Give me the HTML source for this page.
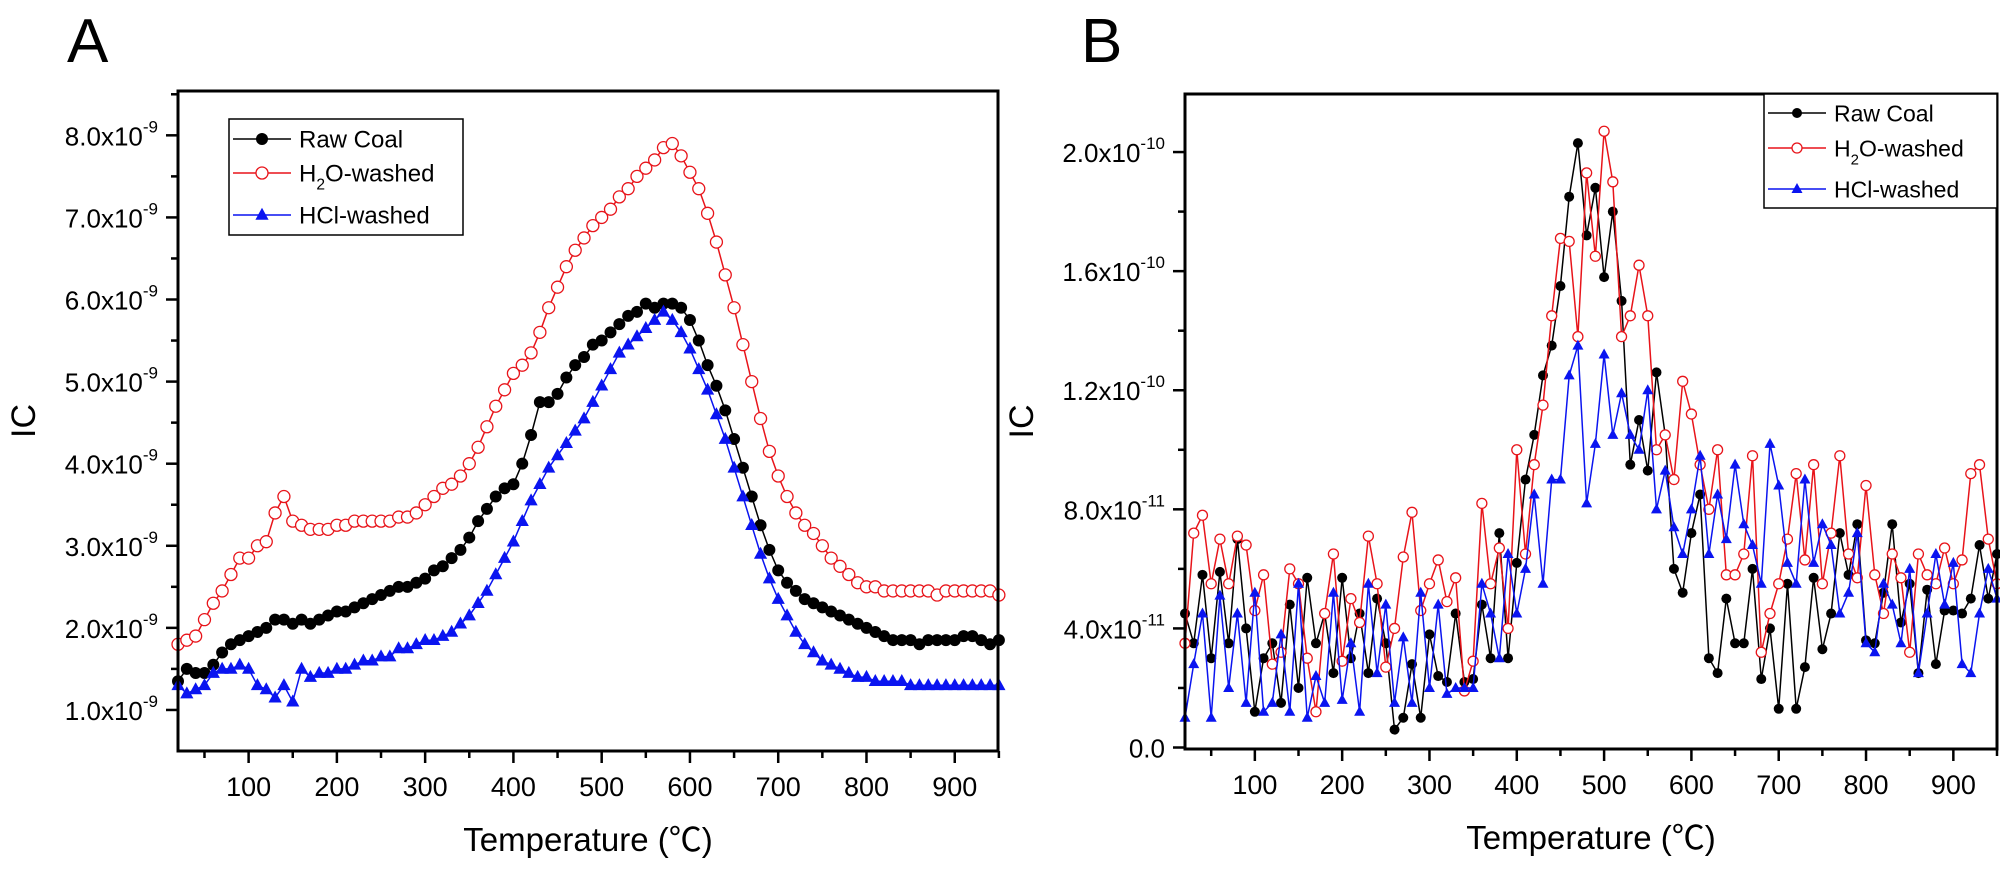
<!DOCTYPE html>
<html><head><meta charset="utf-8"><style>
html,body{margin:0;padding:0;background:#fff;}
svg{display:block;font-family:"Liberation Sans","Noto Sans CJK SC",sans-serif;}
</style></head><body>
<svg id="chart" width="2000" height="892" viewBox="0 0 2000 892" xmlns="http://www.w3.org/2000/svg"></svg>
<script>
const temps = [];
for (let t = 20; t <= 950; t += 10) temps.push(t);
const rawA = [1.35,1.5,1.45,1.45,1.55,1.7,1.8,1.85,1.9,1.95,2.0,2.1,2.1,2.05,2.1,2.05,2.1,2.15,2.2,2.2,2.25,2.3,2.35,2.4,2.45,2.5,2.5,2.55,2.6,2.7,2.75,2.85,2.95,3.1,3.3,3.45,3.6,3.7,3.75,4.0,4.35,4.75,4.75,4.85,5.05,5.2,5.3,5.45,5.5,5.6,5.7,5.8,5.85,5.95,5.9,5.95,5.95,5.9,5.75,5.5,5.2,4.95,4.65,4.3,3.95,3.6,3.25,2.95,2.7,2.55,2.45,2.35,2.3,2.25,2.2,2.15,2.1,2.05,2.0,1.95,1.9,1.85,1.85,1.85,1.8,1.85,1.85,1.85,1.85,1.9,1.9,1.85,1.8,1.85];
const h2oA = [1.8,1.85,1.9,2.1,2.3,2.45,2.65,2.85,2.85,3.0,3.05,3.4,3.6,3.3,3.25,3.2,3.2,3.2,3.25,3.25,3.3,3.3,3.3,3.3,3.3,3.35,3.35,3.4,3.5,3.6,3.7,3.75,3.85,4.0,4.2,4.45,4.7,4.9,5.1,5.2,5.35,5.6,5.9,6.15,6.4,6.6,6.75,6.9,7.0,7.1,7.25,7.35,7.5,7.6,7.7,7.85,7.9,7.75,7.55,7.35,7.05,6.7,6.3,5.9,5.45,5.0,4.55,4.15,3.85,3.6,3.4,3.25,3.15,3.0,2.85,2.75,2.65,2.55,2.5,2.5,2.45,2.45,2.45,2.45,2.45,2.45,2.4,2.45,2.45,2.45,2.45,2.45,2.45,2.4];
const hclA = [1.3,1.2,1.25,1.3,1.45,1.5,1.5,1.55,1.5,1.3,1.25,1.15,1.3,1.1,1.5,1.4,1.45,1.45,1.5,1.5,1.55,1.6,1.6,1.65,1.65,1.75,1.75,1.8,1.85,1.85,1.9,1.95,2.05,2.15,2.3,2.45,2.65,2.85,3.05,3.3,3.55,3.75,3.95,4.1,4.25,4.4,4.55,4.75,4.95,5.15,5.35,5.45,5.55,5.65,5.75,5.85,5.75,5.6,5.4,5.15,4.9,4.6,4.3,3.95,3.6,3.25,2.9,2.6,2.35,2.15,1.95,1.8,1.7,1.6,1.55,1.5,1.45,1.4,1.4,1.35,1.35,1.35,1.35,1.3,1.3,1.3,1.3,1.3,1.3,1.3,1.3,1.3,1.3,1.3];
const rawB = [4.5,3.5,5.8,3.0,5.9,3.5,7.0,4.0,1.2,3.0,3.5,1.5,4.8,2.0,5.7,3.5,4.5,2.5,5.7,3.0,4.5,2.5,5.0,3.5,0.6,1.0,2.8,1.0,3.8,2.4,2.2,4.5,2.2,2.3,4.8,3.0,7.2,3.0,6.2,9.0,10.5,12.5,13.5,15.5,18.5,20.3,17.2,18.8,15.8,18.0,15.0,9.5,11.0,9.3,12.6,10.5,6.0,5.2,7.2,8.5,3.0,2.5,5.0,3.5,3.5,6.0,2.3,4.0,1.3,5.5,1.3,2.7,5.7,3.3,4.5,7.2,5.8,7.5,3.6,3.5,5.2,7.5,4.2,5.5,2.5,5.3,2.8,4.6,4.6,4.5,5.0,6.8,5.0,6.5];
const h2oB = [3.5,7.2,7.8,5.5,7.0,5.5,7.1,6.8,4.6,5.8,2.8,3.2,6.0,5.5,3.0,1.2,4.5,6.5,2.9,5.0,4.2,7.1,5.5,2.7,4.0,6.4,7.9,4.6,5.5,6.3,4.9,5.7,1.9,2.9,8.2,5.5,6.7,4.0,10.0,6.5,9.5,11.5,14.5,17.1,17.0,13.8,19.3,16.5,20.7,19.0,13.8,14.5,16.2,14.5,10.0,10.5,9.0,12.3,11.2,9.5,8.0,10.0,5.8,5.8,6.5,9.8,3.2,4.5,5.5,7.0,9.2,6.3,9.5,5.5,7.2,9.8,6.5,5.7,8.8,5.8,4.5,6.5,5.7,3.2,6.5,5.8,5.5,6.7,5.5,6.3,9.2,9.5,7.0,5.5];
const hclB = [1.0,2.8,4.5,1.0,5.1,2.0,4.5,1.5,5.2,1.2,1.5,3.8,1.2,5.5,1.0,2.4,1.5,5.2,1.6,3.5,1.2,5.5,2.5,4.8,1.5,3.7,1.5,5.2,2.0,4.8,1.8,2.0,2.0,2.0,5.5,4.5,3.0,6.5,4.5,6.0,8.5,5.5,9.0,9.0,12.5,13.5,8.2,10.2,13.2,10.5,11.9,10.5,10.0,12.0,8.0,9.3,7.4,6.5,8.0,9.8,6.5,8.5,7.0,9.5,7.5,6.8,5.5,10.2,8.8,6.2,5.5,9.0,6.2,7.5,6.8,4.5,5.2,7.2,3.5,3.2,5.5,4.8,3.5,6.0,2.5,4.5,6.5,4.8,6.2,2.8,2.5,4.5,6.0,5.0];
const xTicks = [100,200,300,400,500,600,700,800,900];
const yTicksA = [1,2,3,4,5,6,7,8];
const yTicksB = [0,4,8,12,16,20];
const yLabelsB = ["0.0","4.0x10","8.0x10","1.2x10","1.6x10","2.0x10"];
const yExpB = ["","-11","-11","-10","-10","-10"];

const NS = "http://www.w3.org/2000/svg";
const svg = document.getElementById("chart");
function mk(tag, attrs, parent) {
  const e = document.createElementNS(NS, tag);
  for (const k in attrs) e.setAttribute(k, attrs[k]);
  (parent || svg).appendChild(e);
  return e;
}

function panel(cfg) {
  const g = mk("g", {});
  
  
  const xs = v => cfg.L + (v - cfg.x0) / (cfg.x1 - cfg.x0) * (cfg.R - cfg.L);
  const ys = v => cfg.B - (v - cfg.y0) / (cfg.y1 - cfg.y0) * (cfg.B - cfg.T);
  cfg.series.forEach(s => {
    const sg = mk("g", {}, g);
    
    
    let d = "";
    s.vals.forEach((v, i) => { d += (i ? "L" : "M") + xs(temps[i]).toFixed(1) + "," + ys(v).toFixed(1); });
    mk("path", {d: d, fill: "none", stroke: s.color, "stroke-width": 1.5}, sg);
    s.vals.forEach((v, i) => {
      const x = xs(temps[i]), y = ys(v), r = cfg.r;
      let m;
      if (s.shape === "circle") m = mk("circle", {cx: x, cy: y, r: r, fill: "#000"}, sg);
      else if (s.shape === "open") m = mk("circle", {cx: x, cy: y, r: r, fill: "#fff", stroke: "#e8141a", "stroke-width": 1.3}, sg);
      else m = mk("polygon", {points: `${x},${y - r * 1.2} ${x - r * 1.1},${y + r * 0.8} ${x + r * 1.1},${y + r * 0.8}`, fill: "#0a14f0"}, sg);
      
      
    });
  });
  const fr = mk("rect", {x: cfg.L, y: cfg.T, width: cfg.R - cfg.L, height: cfg.B - cfg.T, fill: "none", stroke: "#000", "stroke-width": 3}, g);
  
  
  for (let t = 50; t <= 950; t += 50) {
    const x = xs(t);
    mk("line", {x1: x, y1: cfg.B, x2: x, y2: cfg.B + (t % 100 === 0 ? 12 : 7), stroke: "#000", "stroke-width": 2.5}, g);
  }
  xTicks.forEach(t => {
    const tx = mk("text", {x: xs(t), y: cfg.B + 45, "font-size": 27, "text-anchor": "middle"}, g);
    tx.textContent = t;
    
    
  });
  cfg.minor.forEach(v => mk("line", {x1: cfg.L - 7, y1: ys(v), x2: cfg.L, y2: ys(v), stroke: "#000", "stroke-width": 2.5}, g));
  cfg.yt.forEach((v, i) => {
    mk("line", {x1: cfg.L - 12, y1: ys(v), x2: cfg.L, y2: ys(v), stroke: "#000", "stroke-width": 2.5}, g);
    const tx = mk("text", {x: cfg.L - 20, y: ys(v) + 10, "font-size": 26, "text-anchor": "end"}, g);
    
    
    const a = mk("tspan", {}, tx); a.textContent = cfg.ylab[i];
    if (cfg.yexp[i]) { const b = mk("tspan", {dy: -13, "font-size": 17}, tx); b.textContent = cfg.yexp[i]; }
  });
  const xt = mk("text", {x: (cfg.L + cfg.R) / 2, y: cfg.B + 100, "font-size": 33, "text-anchor": "middle"}, g);
  xt.textContent = "Temperature (℃)";
  
  
  const yt = mk("text", {x: 0, y: 0, "font-size": 34, "text-anchor": "middle", transform: `translate(${cfg.ytx},${(cfg.T + cfg.B) / 2}) rotate(-90)`}, g);
  yt.textContent = "IC";
  
  
  const pl = mk("text", {x: cfg.plx, y: 62, "font-size": 62}, g);
  pl.textContent = cfg.label;
  
  
  const lg = mk("g", {}, g);
  
  
  const Lg = cfg.leg;
  mk("rect", {x: Lg.x, y: Lg.y, width: Lg.w, height: Lg.h, fill: "#fff", stroke: "#000", "stroke-width": 1.5}, lg);
  const names = ["Raw Coal", "H2O-washed", "HCl-washed"];
  cfg.series.forEach((s, i) => {
    const y = Lg.rows[i];
    const e = mk("g", {}, lg);
    
    
    mk("line", {x1: Lg.x + 4, y1: y, x2: Lg.x + Lg.lw, y2: y, stroke: s.color, "stroke-width": 1.5}, e);
    const cx = Lg.x + 4 + (Lg.lw - 4) / 2, r = cfg.r;
    if (s.shape === "circle") mk("circle", {cx: cx, cy: y, r: r, fill: "#000"}, e);
    else if (s.shape === "open") mk("circle", {cx: cx, cy: y, r: r, fill: "#fff", stroke: "#e8141a", "stroke-width": 1.3}, e);
    else mk("polygon", {points: `${cx},${y - r * 1.2} ${cx - r * 1.1},${y + r * 0.8} ${cx + r * 1.1},${y + r * 0.8}`, fill: "#0a14f0"}, e);
    const t = mk("text", {x: Lg.x + Lg.lw + 8, y: y + Lg.fs * 0.36, "font-size": Lg.fs}, e);
    if (i === 1) {
      const a = mk("tspan", {}, t); a.textContent = "H";
      const b = mk("tspan", {dy: 8, "font-size": Lg.fs * 0.65}, t); b.textContent = "2";
      const c = mk("tspan", {dy: -8}, t); c.textContent = "O-washed";
    } else t.textContent = names[i];
  });
}

panel({name: "panel-a", label: "A", plx: 67, L: 178, R: 998, T: 91, B: 751, x0: 20, x1: 949, y0: 0.5, y1: 8.54,
  ytx: 35, r: 6, yt: yTicksA, minor: [1.5,2.5,3.5,4.5,5.5,6.5,7.5,8.5],
  ylab: yTicksA.map(v => v.toFixed(1) + "x10"), yexp: yTicksA.map(() => "-9"),
  leg: {x: 229, y: 119, w: 234, h: 116, rows: [139, 173, 215], lw: 62, fs: 24},
  series: [{name: "raw-coal-a", vals: rawA, color: "#000", shape: "circle"},
           {name: "h2o-washed-a", vals: h2oA, color: "#e8141a", shape: "open"},
           {name: "hcl-washed-a", vals: hclA, color: "#0a14f0", shape: "tri"}]});
panel({name: "panel-b", label: "B", plx: 1081, L: 1185, R: 1997, T: 94, B: 749, x0: 20, x1: 950, y0: -0.05, y1: 21.95,
  ytx: 1033, r: 5, yt: yTicksB, minor: [2,6,10,14,18],
  ylab: yLabelsB, yexp: yExpB,
  leg: {x: 1764, y: 94, w: 233, h: 114, rows: [113, 148, 189], lw: 62, fs: 23},
  series: [{name: "raw-coal-b", vals: rawB, color: "#000", shape: "circle"},
           {name: "h2o-washed-b", vals: h2oB, color: "#e8141a", shape: "open"},
           {name: "hcl-washed-b", vals: hclB, color: "#0a14f0", shape: "tri"}]});
</script>
</body></html>
